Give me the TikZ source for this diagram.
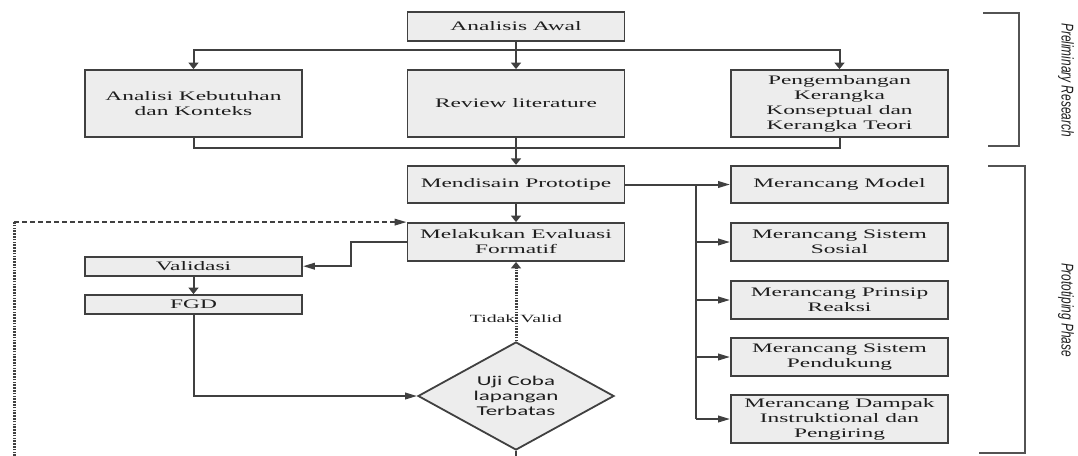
\documentclass[tikz,border=0pt]{standalone}
\usepackage{fontspec}
\setmainfont[FakeStretch=1.8]{Liberation Serif}
\newfontfamily\ujifont[FakeStretch=1.7]{Carlito}
\newfontfamily\fasefont[FakeStretch=0.7]{Liberation Sans}
\usetikzlibrary{shapes.geometric,arrows.meta}

\definecolor{garis}{HTML}{404040}
\definecolor{teks}{HTML}{1E1E1E}
\definecolor{isi}{HTML}{EDEDED}

\begin{document}
\begin{tikzpicture}[x=1pt, y=-1pt,
    kotak/.style={draw=garis, line width=1.8pt, fill=isi, text=teks, minimum width=217pt,
                  inner sep=1pt, align=center, font=\fontsize{13}{15}\selectfont},
    jalur/.style={draw=garis, line width=2pt},
    panah/.style={jalur, -{Triangle[length=6.5pt,width=10pt]}},
    panahh/.style={jalur, -{Triangle[length=12pt,width=6.5pt]}},
    titik/.style={draw=garis, line width=3pt, dash pattern=on 1.6pt off 1.2pt},
    putus/.style={draw=garis, line width=1.8pt, dash pattern=on 5pt off 3pt},
    kurung/.style={draw=garis!90, line width=2pt},
    fase/.style={rotate=-90, text=teks, font=\fasefont\itshape\fontsize{17}{19}\selectfont}]

    \useasboundingbox (0,0) rectangle (1078,455);

    % preliminary research
    \node[kotak, minimum height=29pt] (awal)      at (516,26.5)    {Analisis Awal};
    \node[kotak, minimum height=67pt] (kebutuhan) at (193.5,103.5) {Analisi Kebutuhan\\dan Konteks};
    \node[kotak, minimum height=67pt] (review)    at (516,103.5)   {Review literature};
    \node[kotak, minimum height=67pt] (kerangka)  at (839.5,103.5) {Pengembangan\\Kerangka\\Konseptual dan\\Kerangka Teori};

    % prototyping phase
    \node[kotak, minimum height=37.5pt] (mendisain) at (516,184.5)   {Mendisain Prototipe};
    \node[kotak, minimum height=38pt]   (evaluasi)  at (516,242)     {Melakukan Evaluasi\\Formatif};
    \node[kotak, minimum height=19pt]   (validasi)  at (193.5,266.2) {Validasi};
    \node[kotak, minimum height=19pt]   (fgd)       at (193.5,304.5) {FGD};
    \node[diamond, aspect=1.8, draw=garis, line width=1.8pt, fill=isi, text=teks,
          minimum width=196pt, minimum height=108pt, inner sep=0pt, align=center,
          font=\ujifont\fontsize{13.5}{15.3}\selectfont]
                                        (uji)       at (516,396)     {Uji Coba\\lapangan\\Terbatas};

    \node[kotak, minimum height=37.5pt] (model)     at (839.5,184.5) {Merancang Model};
    \node[kotak, minimum height=38pt]   (sosial)    at (839.5,242)   {Merancang Sistem\\Sosial};
    \node[kotak, minimum height=38pt]   (prinsip)   at (839.5,300)   {Merancang Prinsip\\Reaksi};
    \node[kotak, minimum height=38pt]   (pendukung) at (839.5,357)   {Merancang Sistem\\Pendukung};
    \node[kotak, minimum height=48pt]   (dampak)    at (839.5,419)   {Merancang Dampak\\Instruktional dan\\Pengiring};

    \coordinate (bagi)   at (516,50);
    \coordinate (gabung) at (516,148);
    \coordinate (cabang) at (696,184.5);
    \coordinate (balik)  at (14,470);

    \draw[panah] (awal) -- (review);
    \draw[panah] (bagi) -| (kebutuhan);
    \draw[panah] (bagi) -| (kerangka);
    \draw[jalur] (kebutuhan) |- (gabung);
    \draw[jalur] (kerangka) |- (gabung);
    \draw[panah] (review) -- (mendisain);

    \draw[panah]  (mendisain) -- (evaluasi);
    \draw[panahh] (mendisain) -- (model);
    \draw[jalur]  (cabang) -- (cabang |- dampak.west);
    \foreach \n in {sosial,prinsip,pendukung,dampak}
        \draw[panahh] (cabang |- \n.west) -- (\n);

    \draw[panahh] (evaluasi.west) -- ++(-56,0) |- (validasi);
    \draw[panah]  (validasi) -- (fgd);
    \draw[panahh] (fgd) |- (uji);
    \draw[titik, -{Triangle[length=6.5pt,width=10pt]}] (uji) --
        node[pos=0.28, text=teks, font=\fontsize{11}{12}\selectfont] (tidak) {Tidak Valid} (evaluasi);
    \draw[jalur] (uji.south) -- ++(0,10);

    \draw[titik] (balik) -- (balik |- evaluasi.north west);
    \draw[putus, -{Triangle[length=12pt,width=6.5pt]}] (balik |- evaluasi.north west) -- (evaluasi.north west);

    % brackets
    \draw[kurung] (983,12.5) -- (1019,12.5) -- (1019,146) -- (988,146);
    \draw[kurung] (988,166) -- (1025,166) -- (1025,452.5) -- (979,452.5);
    \node[fase] (prelim) at (1066,80)  {Preliminary Research};
    \node[fase] (proto)  at (1066,310) {Prototiping Phase};
\end{tikzpicture}
\end{document}
